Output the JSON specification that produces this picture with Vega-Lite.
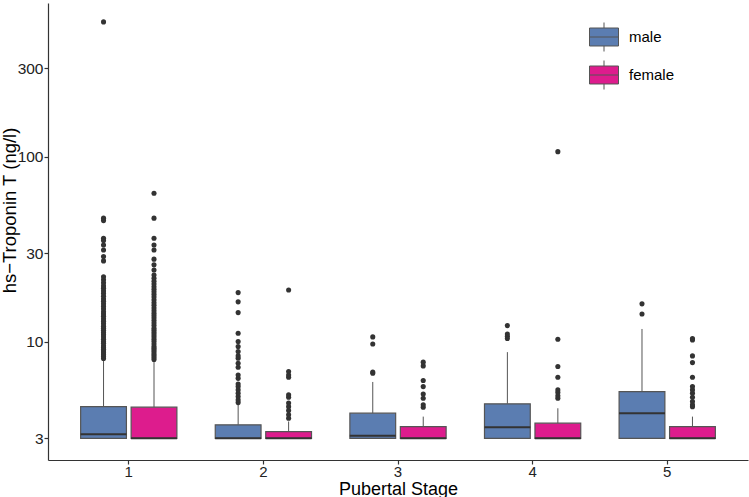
{
  "$schema": "https://vega.github.io/schema/vega-lite/v6.json",
  "width": 700,
  "height": 457,
  "autosize": {"type": "none"},
  "padding": {"left": 48, "top": 3, "right": 1, "bottom": 37},
  "background": "white",
  "config": {
    "view": {"stroke": null},
    "font": "Liberation Sans",
    "axis": {
      "grid": false,
      "domainColor": "#333333",
      "domainWidth": 1.2,
      "tickColor": "#333333",
      "tickWidth": 1.2,
      "tickSize": 4,
      "labelFontSize": 15.5,
      "labelColor": "#222222",
      "titleFontSize": 19,
      "titleFontWeight": "normal",
      "titleColor": "#000000"
    }
  },
  "datasets": {
    "boxes": [
      {"stage": "1", "sex": "male", "lower": 3, "q1": 3, "median": 3.16, "q3": 4.45, "upper": 8.03},
      {"stage": "1", "sex": "female", "lower": 3, "q1": 3, "median": 3, "q3": 4.42, "upper": 7.9},
      {"stage": "2", "sex": "male", "lower": 3, "q1": 3, "median": 3, "q3": 3.55, "upper": 4.55},
      {"stage": "2", "sex": "female", "lower": 3, "q1": 3, "median": 3, "q3": 3.26, "upper": 3.7},
      {"stage": "3", "sex": "male", "lower": 3, "q1": 3, "median": 3.1, "q3": 4.1, "upper": 6.05},
      {"stage": "3", "sex": "female", "lower": 3, "q1": 3, "median": 3, "q3": 3.47, "upper": 3.93},
      {"stage": "4", "sex": "male", "lower": 3, "q1": 3, "median": 3.44, "q3": 4.61, "upper": 8.77},
      {"stage": "4", "sex": "female", "lower": 3, "q1": 3, "median": 3, "q3": 3.62, "upper": 4.36},
      {"stage": "5", "sex": "male", "lower": 3, "q1": 3, "median": 4.1, "q3": 5.37, "upper": 11.7},
      {"stage": "5", "sex": "female", "lower": 3, "q1": 3, "median": 3, "q3": 3.47, "upper": 3.93}
    ],
    "outliers": [
      {"stage": "1", "sex": "male", "value": 8.1}, {"stage": "1", "sex": "male", "value": 8.3}, {"stage": "1", "sex": "male", "value": 8.5},
      {"stage": "1", "sex": "male", "value": 8.7}, {"stage": "1", "sex": "male", "value": 8.9}, {"stage": "1", "sex": "male", "value": 9.1},
      {"stage": "1", "sex": "male", "value": 9.3}, {"stage": "1", "sex": "male", "value": 9.5}, {"stage": "1", "sex": "male", "value": 9.8},
      {"stage": "1", "sex": "male", "value": 10.0}, {"stage": "1", "sex": "male", "value": 10.3}, {"stage": "1", "sex": "male", "value": 10.6},
      {"stage": "1", "sex": "male", "value": 10.9}, {"stage": "1", "sex": "male", "value": 11.2}, {"stage": "1", "sex": "male", "value": 11.5},
      {"stage": "1", "sex": "male", "value": 11.8}, {"stage": "1", "sex": "male", "value": 12.1}, {"stage": "1", "sex": "male", "value": 12.5},
      {"stage": "1", "sex": "male", "value": 12.9}, {"stage": "1", "sex": "male", "value": 13.3}, {"stage": "1", "sex": "male", "value": 13.7},
      {"stage": "1", "sex": "male", "value": 14.1}, {"stage": "1", "sex": "male", "value": 14.5}, {"stage": "1", "sex": "male", "value": 15.0},
      {"stage": "1", "sex": "male", "value": 15.5}, {"stage": "1", "sex": "male", "value": 16.0}, {"stage": "1", "sex": "male", "value": 16.5},
      {"stage": "1", "sex": "male", "value": 17.0}, {"stage": "1", "sex": "male", "value": 17.6}, {"stage": "1", "sex": "male", "value": 18.2},
      {"stage": "1", "sex": "male", "value": 18.8}, {"stage": "1", "sex": "male", "value": 19.4}, {"stage": "1", "sex": "male", "value": 20.0},
      {"stage": "1", "sex": "male", "value": 20.8}, {"stage": "1", "sex": "male", "value": 21.6}, {"stage": "1", "sex": "male", "value": 22.4},
      {"stage": "1", "sex": "male", "value": 27.3}, {"stage": "1", "sex": "male", "value": 28.8}, {"stage": "1", "sex": "male", "value": 31.3},
      {"stage": "1", "sex": "male", "value": 33.3}, {"stage": "1", "sex": "male", "value": 35.2}, {"stage": "1", "sex": "male", "value": 36.2},
      {"stage": "1", "sex": "male", "value": 45.1}, {"stage": "1", "sex": "male", "value": 46.5}, {"stage": "1", "sex": "male", "value": 535},
      {"stage": "1", "sex": "female", "value": 8.0}, {"stage": "1", "sex": "female", "value": 8.2}, {"stage": "1", "sex": "female", "value": 8.4},
      {"stage": "1", "sex": "female", "value": 8.6}, {"stage": "1", "sex": "female", "value": 8.8}, {"stage": "1", "sex": "female", "value": 9.0},
      {"stage": "1", "sex": "female", "value": 9.2}, {"stage": "1", "sex": "female", "value": 9.4}, {"stage": "1", "sex": "female", "value": 9.7},
      {"stage": "1", "sex": "female", "value": 10.0}, {"stage": "1", "sex": "female", "value": 10.3}, {"stage": "1", "sex": "female", "value": 10.6},
      {"stage": "1", "sex": "female", "value": 10.9}, {"stage": "1", "sex": "female", "value": 11.2}, {"stage": "1", "sex": "female", "value": 11.5},
      {"stage": "1", "sex": "female", "value": 11.8}, {"stage": "1", "sex": "female", "value": 12.2}, {"stage": "1", "sex": "female", "value": 12.6},
      {"stage": "1", "sex": "female", "value": 13.0}, {"stage": "1", "sex": "female", "value": 13.4}, {"stage": "1", "sex": "female", "value": 13.8},
      {"stage": "1", "sex": "female", "value": 14.2}, {"stage": "1", "sex": "female", "value": 14.7}, {"stage": "1", "sex": "female", "value": 15.2},
      {"stage": "1", "sex": "female", "value": 15.7}, {"stage": "1", "sex": "female", "value": 16.2}, {"stage": "1", "sex": "female", "value": 16.8},
      {"stage": "1", "sex": "female", "value": 17.4}, {"stage": "1", "sex": "female", "value": 18.0}, {"stage": "1", "sex": "female", "value": 18.6},
      {"stage": "1", "sex": "female", "value": 19.2}, {"stage": "1", "sex": "female", "value": 19.8}, {"stage": "1", "sex": "female", "value": 20.5},
      {"stage": "1", "sex": "female", "value": 21.2}, {"stage": "1", "sex": "female", "value": 22.0}, {"stage": "1", "sex": "female", "value": 22.9},
      {"stage": "1", "sex": "female", "value": 24.4}, {"stage": "1", "sex": "female", "value": 26.0}, {"stage": "1", "sex": "female", "value": 27.9},
      {"stage": "1", "sex": "female", "value": 31.3}, {"stage": "1", "sex": "female", "value": 33.3}, {"stage": "1", "sex": "female", "value": 36.2},
      {"stage": "1", "sex": "female", "value": 46.5}, {"stage": "1", "sex": "female", "value": 63.4},
      {"stage": "2", "sex": "male", "value": 4.68}, {"stage": "2", "sex": "male", "value": 4.84}, {"stage": "2", "sex": "male", "value": 5.05},
      {"stage": "2", "sex": "male", "value": 5.26}, {"stage": "2", "sex": "male", "value": 5.48}, {"stage": "2", "sex": "male", "value": 5.71},
      {"stage": "2", "sex": "male", "value": 5.9}, {"stage": "2", "sex": "male", "value": 6.33}, {"stage": "2", "sex": "male", "value": 6.6},
      {"stage": "2", "sex": "male", "value": 7.27}, {"stage": "2", "sex": "male", "value": 7.64}, {"stage": "2", "sex": "male", "value": 8.13},
      {"stage": "2", "sex": "male", "value": 8.37}, {"stage": "2", "sex": "male", "value": 8.83}, {"stage": "2", "sex": "male", "value": 9.4},
      {"stage": "2", "sex": "male", "value": 10.0}, {"stage": "2", "sex": "male", "value": 11.1}, {"stage": "2", "sex": "male", "value": 14.35},
      {"stage": "2", "sex": "male", "value": 16.4}, {"stage": "2", "sex": "male", "value": 18.4},
      {"stage": "2", "sex": "female", "value": 3.85}, {"stage": "2", "sex": "female", "value": 4.02}, {"stage": "2", "sex": "female", "value": 4.24},
      {"stage": "2", "sex": "female", "value": 4.45}, {"stage": "2", "sex": "female", "value": 4.65}, {"stage": "2", "sex": "female", "value": 5.0},
      {"stage": "2", "sex": "female", "value": 5.15}, {"stage": "2", "sex": "female", "value": 6.42}, {"stage": "2", "sex": "female", "value": 6.6},
      {"stage": "2", "sex": "female", "value": 6.89}, {"stage": "2", "sex": "female", "value": 19.0},
      {"stage": "3", "sex": "male", "value": 6.75}, {"stage": "3", "sex": "male", "value": 6.84}, {"stage": "3", "sex": "male", "value": 9.7},
      {"stage": "3", "sex": "male", "value": 10.6},
      {"stage": "3", "sex": "female", "value": 4.42}, {"stage": "3", "sex": "female", "value": 4.55}, {"stage": "3", "sex": "female", "value": 4.94},
      {"stage": "3", "sex": "female", "value": 5.21}, {"stage": "3", "sex": "female", "value": 5.71}, {"stage": "3", "sex": "female", "value": 6.16},
      {"stage": "3", "sex": "female", "value": 7.39}, {"stage": "3", "sex": "female", "value": 7.74},
      {"stage": "4", "sex": "male", "value": 10.4}, {"stage": "4", "sex": "male", "value": 10.7}, {"stage": "4", "sex": "male", "value": 11.0},
      {"stage": "4", "sex": "male", "value": 12.2},
      {"stage": "4", "sex": "female", "value": 4.94}, {"stage": "4", "sex": "female", "value": 5.09}, {"stage": "4", "sex": "female", "value": 5.3},
      {"stage": "4", "sex": "female", "value": 5.48}, {"stage": "4", "sex": "female", "value": 6.42}, {"stage": "4", "sex": "female", "value": 7.33},
      {"stage": "4", "sex": "female", "value": 10.3}, {"stage": "4", "sex": "female", "value": 106.4},
      {"stage": "5", "sex": "male", "value": 14.1}, {"stage": "5", "sex": "male", "value": 16.0},
      {"stage": "5", "sex": "female", "value": 4.45}, {"stage": "5", "sex": "female", "value": 4.55}, {"stage": "5", "sex": "female", "value": 4.74},
      {"stage": "5", "sex": "female", "value": 5.0}, {"stage": "5", "sex": "female", "value": 5.26}, {"stage": "5", "sex": "female", "value": 5.48},
      {"stage": "5", "sex": "female", "value": 5.71}, {"stage": "5", "sex": "female", "value": 6.42}, {"stage": "5", "sex": "female", "value": 7.7},
      {"stage": "5", "sex": "female", "value": 8.37}, {"stage": "5", "sex": "female", "value": 10.2}, {"stage": "5", "sex": "female", "value": 10.4}
    ]
  },
  "encoding": {
    "x": {
      "field": "stage", "type": "nominal",
      "scale": {"type": "band", "domain": ["1", "2", "3", "4", "5"], "paddingInner": 0, "paddingOuter": 0.1},
      "axis": {"title": "Pubertal Stage", "labelAngle": 0, "labelPadding": 0, "labelFontSize": 15, "titleFontSize": 18, "titleBaseline": "alphabetic", "titleY": 34}
    },
    "xOffset": {
      "field": "sex", "type": "nominal",
      "scale": {"domain": ["male", "female"], "paddingInner": 0.093, "paddingOuter": 0.38}
    }
  },
  "layer": [
    {
      "data": {"name": "boxes"},
      "mark": {"type": "rule", "color": "#555555", "strokeWidth": 1},
      "encoding": {
        "y": {"field": "q3", "type": "quantitative",
          "scale": {"type": "log", "domain": [2.29, 677], "nice": false},
          "axis": {"title": "hs−Troponin T (ng/l)", "values": [3, 10, 30, 100, 300], "format": "d", "labelPadding": 1, "titleFontSize": 18.5, "titleX": -38.5, "titleY": 207, "titleBaseline": "middle"}},
        "y2": {"field": "upper"}
      }
    },
    {
      "data": {"name": "boxes"},
      "mark": {"type": "bar", "stroke": "#555555", "strokeWidth": 1.2},
      "encoding": {
        "y": {"field": "q1", "type": "quantitative"},
        "y2": {"field": "q3"},
        "color": {
          "field": "sex", "type": "nominal",
          "scale": {"domain": ["male", "female"], "range": ["#5B7DB1", "#DD1C8D"]},
          "legend": {
            "title": null,
            "orient": "none",
            "legendX": 541,
            "legendY": 19,
            "symbolType": "M-1,-0.62H1V0.62H-1Z M-1,0H1 M0,-0.62V-1 M0,0.62V1",
            "symbolSize": 841,
            "symbolStrokeColor": "#555555",
            "symbolStrokeWidth": 1,
            "symbolOpacity": 1,
            "labelFontSize": 15,
            "labelColor": "#000000",
            "labelOffset": 10,
            "rowPadding": 4
          }
        }
      }
    },
    {
      "data": {"name": "boxes"},
      "mark": {"type": "tick", "color": "#333333", "thickness": 2, "size": 46, "opacity": 1},
      "encoding": {
        "y": {"field": "median", "type": "quantitative"}
      }
    },
    {
      "data": {"name": "outliers"},
      "mark": {"type": "point", "filled": true, "color": "#333333", "size": 26, "opacity": 1},
      "encoding": {
        "y": {"field": "value", "type": "quantitative"}
      }
    }
  ]
}
